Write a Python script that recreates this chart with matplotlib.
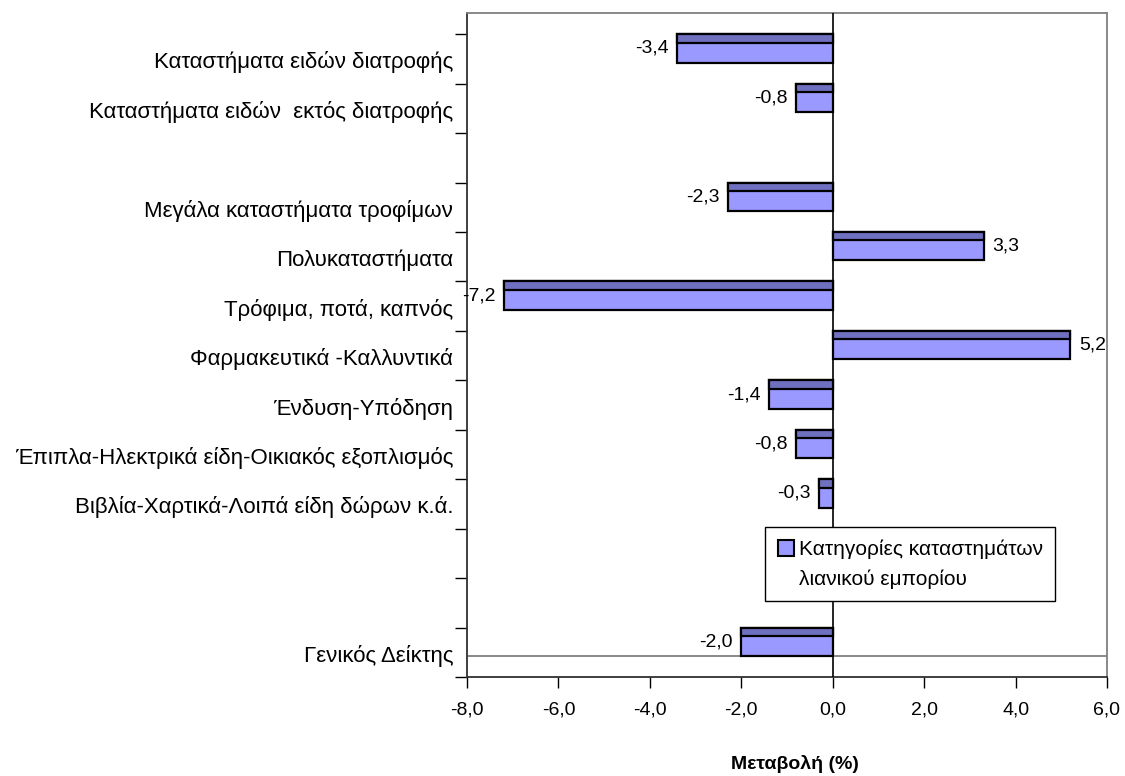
import matplotlib
matplotlib.use("Agg")
import matplotlib.pyplot as plt
from matplotlib.patches import Patch
import numpy as np

plt.rcParams['font.family'] = ['Liberation Sans Narrow', 'Liberation Sans', 'DejaVu Sans']

# κατηγορίες (κενές γραμμές = '')
categories = [
    "Καταστήματα ειδών διατροφής",
    "Καταστήματα ειδών  εκτός διατροφής",
    "",
    "Μεγάλα καταστήματα τροφίμων",
    "Πολυκαταστήματα",
    "Τρόφιμα, ποτά, καπνός",
    "Φαρμακευτικά -Καλλυντικά",
    "Ένδυση-Υπόδηση",
    "Έπιπλα-Ηλεκτρικά είδη-Οικιακός εξοπλισμός",
    "Βιβλία-Χαρτικά-Λοιπά είδη δώρων κ.ά.",
    "",
    "",
    "Γενικός Δείκτης",
]
values = [-3.4, -0.8, np.nan, -2.3, 3.3, -7.2, 5.2, -1.4, -0.8, -0.3, np.nan, np.nan, -2.0]
xticks = [-8, -6, -4, -2, 0, 2, 4, 6]
legend_lines = ["Κατηγορίες καταστημάτων", "λιανικού εμπορίου"]

light = "#9999FF"
dark = "#7070C0"

fig = plt.figure(figsize=(11.25, 7.76), dpi=100)
ax = fig.add_axes([0.4151, 0.1276, 0.5689, 0.8557])

ypos = np.arange(len(categories))
vals = np.array(values, dtype=float)
mask = ~np.isnan(vals)

bar_h = 0.575
top_h = 0.17
ax.barh(ypos[mask], vals[mask], height=bar_h, align='edge', color=light,
        edgecolor='black', linewidth=1.6, zorder=3)
ax.barh(ypos[mask], vals[mask], height=top_h, align='edge', color=dark,
        edgecolor='black', linewidth=1.6, zorder=4)

for y, v in zip(ypos[mask], vals[mask]):
    txt = f"{v:.1f}".replace(".", ",")
    if v < 0:
        ax.annotate(txt, (v, y + bar_h / 2), xytext=(-6, 0), textcoords='offset points',
                    ha='right', va='center', fontsize=14, zorder=5)
    else:
        ax.annotate(txt, (v, y + bar_h / 2), xytext=(6, 0), textcoords='offset points',
                    ha='left', va='center', fontsize=14, zorder=5)

ax.set_xlim(-8, 6)
ax.set_ylim(13.0, -0.43)

ax.set_xticks(xticks)
ax.set_xticklabels([f"{t:.1f}".replace(".", ",") for t in xticks], fontsize=14)
ax.tick_params(axis='x', direction='out', length=8, width=1, pad=10)

ax.set_yticks(ypos + 0.52)
ax.set_yticklabels(categories, fontsize=16)
ax.set_yticks(np.arange(0, len(categories) + 1), minor=True)
ax.tick_params(axis='y', which='major', length=0, pad=10)
ax.tick_params(axis='y', which='minor', direction='out', length=9, width=1)

ax.spines['left'].set_color('#303030')
ax.spines['bottom'].set_color('#303030')
ax.spines['top'].set_color('#808080')
ax.spines['right'].set_color('#808080')
for s in ax.spines.values():
    s.set_linewidth(1.3)

# γραμμή "δαπέδου" και άξονας στο μηδέν
ax.axhline(12.57, color='#808080', linewidth=1.3, zorder=2)
ax.axvline(0, color='black', linewidth=1.2, zorder=5)

ax.set_xlabel("Μεταβολή (%)", fontsize=14, fontweight='bold')
ax.xaxis.set_label_coords(0.5125, -0.131)
ax.xaxis.label.set_va('center')

handles = [Patch(facecolor=light, edgecolor='black', linewidth=1.5),
           Patch(visible=False)]
leg = ax.legend(handles, legend_lines, loc='upper left', bbox_to_anchor=(0.466, 0.226),
                borderaxespad=0, fancybox=False, framealpha=1, edgecolor='black',
                fontsize=15, handlelength=0.8, handleheight=0.8, handletextpad=0.2,
                labelspacing=0.5, borderpad=0.6)
leg.get_frame().set_linewidth(1.0)
leg.set_zorder(6)

plt.savefig("out.png", dpi=100)
